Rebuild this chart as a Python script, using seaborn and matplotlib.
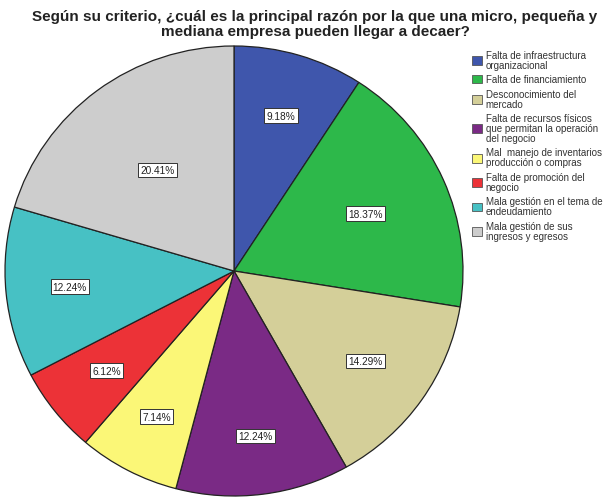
import matplotlib
matplotlib.use("Agg")
import numpy as np
import matplotlib.pyplot as plt
import seaborn as sns
from matplotlib.patches import Patch

categories = [
    "Falta de infraestructura\norganizacional",
    "Falta de financiamiento",
    "Desconocimiento del\nmercado",
    "Falta de recursos físicos\nque permitan la operación\ndel negocio",
    "Mal  manejo de inventarios\nproducción o compras",
    "Falta de promoción del\nnegocio",
    "Mala gestión en el tema de\nendeudamiento",
    "Mala gestión de sus\ningresos y egresos",
]
percentages = [9.18, 18.37, 14.29, 12.24, 7.14, 6.12, 12.24, 20.41]
colors = ["#3F56AC", "#2DB84A", "#D4CF99", "#7A2A85", "#FBF777", "#EC3237", "#47C1C4", "#CDCDCD"]
# radial placement of the percentage boxes (fraction of radius)
label_radius = [0.72, 0.63, 0.70, 0.74, 0.73, 0.71, 0.72, 0.56]

sns.set_theme(style="white")
plt.rcParams['font.family'] = ['Liberation Sans', 'DejaVu Sans']

fig = plt.figure(figsize=(6.16, 5.02), dpi=100)
ax = fig.add_axes([5 / 616, 5 / 502, 458 / 616, 450 / 502])
wedges, texts, autotexts = ax.pie(
    percentages, colors=colors, startangle=90, counterclock=False,
    autopct=lambda p: f"{p:.2f}%", pctdistance=0.72,
    wedgeprops=dict(edgecolor="#222222", linewidth=0.9),
    textprops=dict(fontsize=7.3, color="#222222"),
)
for w, t, r in zip(wedges, autotexts, label_radius):
    ang = np.deg2rad((w.theta1 + w.theta2) / 2)
    t.set_position((r * np.cos(ang), r * np.sin(ang)))
    t.set_bbox(dict(facecolor="white", edgecolor="#333333", linewidth=0.7, pad=1.6))
ax.set_aspect("auto")
ax.set_xlim(-1.0, 1.0)
ax.set_ylim(-1.0, 1.0)

fig.text(315 / 616, 1 - 10 / 502,
         "Según su criterio, ¿cuál es la principal razón por la que una micro, pequeña y\nmediana empresa pueden llegar a decaer?",
         ha="center", va="top", fontsize=11, fontweight="bold", color="#222222", linespacing=1.1)

handles = [Patch(facecolor=c, edgecolor="#555555", linewidth=0.6) for c in colors]
leg = fig.legend(handles, categories, loc="upper left", bbox_to_anchor=(472 / 616, 1 - 51 / 502),
                 frameon=False, fontsize=7, handlelength=1.0, handleheight=1.0,
                 handletextpad=0.4, labelspacing=0.45, borderaxespad=0, borderpad=0)
for t in leg.get_texts():
    t.set_color("#333333")
    t.set_linespacing(1.0)

fig.savefig("out.png", dpi=100, facecolor="white")
